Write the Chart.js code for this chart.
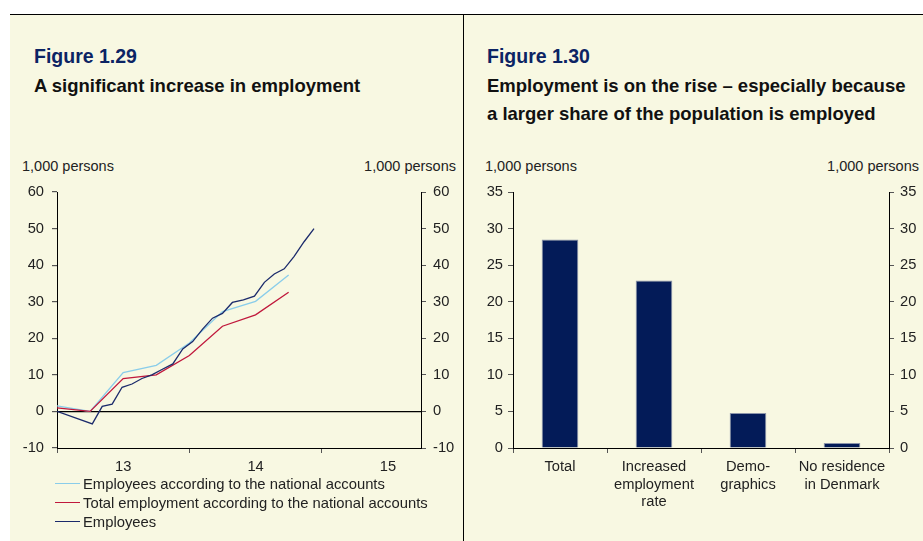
<!DOCTYPE html>
<html>
<head>
<meta charset="utf-8">
<script src="https://cdn.jsdelivr.net/npm/chart.js@4.4.1/dist/chart.umd.min.js"></script>
<style>
  html, body { margin: 0; padding: 0; background: #fff; }
  body { width: 923px; height: 541px; position: relative; overflow: hidden;
         font-family: 'Liberation Sans', Arial, sans-serif; color: #222; }
  #panel { position: absolute; left: 10px; top: 15px; width: 913px; height: 526px; background: #F8F8E2; }
  #rule { position: absolute; left: 10px; top: 14px; width: 913px; height: 1px; background: #000; }
  #divider { position: absolute; left: 463px; top: 14px; width: 1px; height: 527px; background: #000; }
  .fig { position: absolute; top: 46.5px; font-weight: bold; font-size: 19.5px; line-height: 19.5px;
         color: #0c2464; white-space: nowrap; }
  .title { position: absolute; top: 71.6px; font-weight: bold; font-size: 18.5px; line-height: 28px;
           color: #111; white-space: nowrap; }
  .unit { position: absolute; top: 158.7px; font-size: 14.5px; line-height: 14.5px; color: #222; white-space: nowrap; }
  canvas { position: absolute; }
  #legend { position: absolute; left: 55px; top: 475.4px; font-size: 14.8px; color: #222; }
  #legend .row { position: relative; height: 19px; line-height: 19px; padding-left: 28px; white-space: nowrap; }
  #legend .swatch { position: absolute; left: 0; top: 7.5px; width: 25px; height: 1.3px; }
</style>
</head>
<body>
<div id="panel"></div>
<div id="rule"></div>
<div id="divider"></div>

<div class="fig" style="left:34px">Figure 1.29</div>
<div class="title" style="left:34px">A significant increase in employment</div>
<div class="fig" style="left:487px">Figure 1.30</div>
<div class="title" style="left:487px">Employment is on the rise – especially because<br>a larger share of the population is employed</div>

<div class="unit" style="left:22px">1,000 persons</div>
<div class="unit" style="right:467px">1,000 persons</div>
<div class="unit" style="left:485px">1,000 persons</div>
<div class="unit" style="right:4px">1,000 persons</div>

<canvas id="lineChart" width="463" height="300" style="left:0px; top:180px"></canvas>
<canvas id="barChart" width="459" height="361" style="left:464px; top:180px"></canvas>
<div id="legend"></div>

<script>
// Figur 1.29 - position in months from the start of 2013
const seriesNames = [
    'Employees according to the national accounts',
    'Total employment according to the national accounts',
    'Employees'
];
const quarterPos = [0, 3, 6, 9, 12, 15, 18, 21];
const employeesNA = [1.5, 0.0, 10.6, 12.6, 18.7, 27.3, 30.1, 37.3];
const totalEmploymentNA = [1.0, 0.0, 9.0, 10.0, 15.3, 23.3, 26.4, 32.6];
const monthPos = [0, 3.2, 4.1, 5.0, 5.9, 6.8, 7.7, 8.6, 9.6, 10.5, 11.4, 12.3,
    13.2, 14.1, 15.0, 15.9, 16.9, 17.9, 18.8, 19.7, 20.6, 21.5, 22.4, 23.3];
const employees = [0, -3.4, 1.4, 2.0, 6.6, 7.5, 9.0, 10.0, 11.6, 13.0, 17.1, 19.1,
    22.5, 25.5, 26.8, 29.8, 30.5, 31.5, 35.3, 37.6, 39.0, 42.4, 46.4, 50.0];
const yearLabels = ['13', '14', '15'];
const yearCenters = [6, 18, 30];
const yearStarts = [0, 12, 24];
const lineTicks = [-10, 0, 10, 20, 30, 40, 50, 60];

// Figur 1.30
const barCategories = [['Total'], ['Increased', 'employment', 'rate'], ['Demo-', 'graphics'], ['No residence', 'in Denmark']];
const barValues = [28.5, 22.9, 4.8, 0.7];
const barTicks = [0, 5, 10, 15, 20, 25, 30, 35];

Chart.defaults.font.family = "'Liberation Sans', Arial, sans-serif";
Chart.defaults.font.size = 14.7;
Chart.defaults.color = '#222';

const toPoints = (xs, ys) => xs.map((x, i) => ({ x: x, y: ys[i] }));

// fast bredde på y-aksen, og ingen ekstra top-padding fra tick labels
const fixWidth = w => s => { s.width = w; s.paddingTop = 0; s.paddingBottom = 0; };

const lineChart = new Chart(document.getElementById('lineChart'), {
    type: 'line',
    data: {
        datasets: [
            { label: seriesNames[0], data: toPoints(quarterPos, employeesNA), borderColor: '#8ACDEA', order: 2 },
            { label: seriesNames[1], data: toPoints(quarterPos, totalEmploymentNA), borderColor: '#C0183C', order: 1 },
            { label: seriesNames[2], data: toPoints(monthPos, employees), borderColor: '#1B2A6B', order: 0 }
        ]
    },
    options: {
        responsive: false,
        animation: false,
        layout: { padding: { top: 12 }, autoPadding: false },
        elements: { point: { radius: 0, hoverRadius: 0 }, line: { borderWidth: 1.3, tension: 0 } },
        plugins: { legend: { display: false }, tooltip: { enabled: false } },
        scales: {
            x: {
                type: 'linear', min: 0, max: 33,
                afterBuildTicks: s => { s.ticks = [0, 6, 12, 18, 24, 30].map(v => ({ value: v })); },
                afterFit: s => { s.height = 32; },
                ticks: {
                    autoSkip: false, maxRotation: 0, padding: 5,
                    callback: v => { const i = yearCenters.indexOf(v); return i >= 0 ? yearLabels[i] : ''; }
                },
                grid: {
                    drawOnChartArea: false, tickLength: 5,
                    tickColor: c => yearStarts.includes(c.tick.value) ? '#555' : 'rgba(0,0,0,0)'
                },
                border: { color: '#000', width: 1 }
            },
            y: {
                min: -10, max: 60,
                afterBuildTicks: s => { s.ticks = lineTicks.map(v => ({ value: v })); },
                afterFit: fixWidth(57),
                ticks: { padding: 8 },
                grid: {
                    drawOnChartArea: true, tickLength: 5, tickColor: '#555',
                    color: c => c.tick && c.tick.value === 0 ? '#000' : 'rgba(0,0,0,0)',
                    lineWidth: 1.2
                },
                border: { color: '#000', width: 1 }
            },
            y2: {
                position: 'right', min: -10, max: 60,
                afterBuildTicks: s => { s.ticks = lineTicks.map(v => ({ value: v })); },
                afterFit: fixWidth(42),
                ticks: { padding: 7 },
                grid: { drawOnChartArea: false, tickLength: 5, tickColor: '#555' },
                border: { color: '#000', width: 1 }
            }
        }
    }
});

// legend som html
const legend = document.getElementById('legend');
lineChart.data.datasets.forEach(ds => {
    const row = document.createElement('div');
    row.className = 'row';
    const sw = document.createElement('span');
    sw.className = 'swatch';
    sw.style.background = ds.borderColor;
    row.appendChild(sw);
    row.appendChild(document.createTextNode(ds.label));
    legend.appendChild(row);
});

new Chart(document.getElementById('barChart'), {
    type: 'bar',
    data: {
        labels: barCategories,
        datasets: [{
            data: barValues,
            backgroundColor: '#031B58',
            borderColor: '#8C95AA',
            borderWidth: 1,
            categoryPercentage: 1,
            barPercentage: 0.39
        }]
    },
    options: {
        responsive: false,
        animation: false,
        layout: { padding: { top: 12 } },
        plugins: { legend: { display: false }, tooltip: { enabled: false } },
        scales: {
            x: {
                afterFit: s => { s.height = 93; },
                ticks: { padding: 5, maxRotation: 0, autoSkip: false, font: { lineHeight: 1.2 } },
                grid: { drawOnChartArea: false, tickLength: 5, tickColor: '#555', offset: true },
                border: { color: '#000', width: 1 }
            },
            y: {
                min: 0, max: 35,
                afterBuildTicks: s => { s.ticks = barTicks.map(v => ({ value: v })); },
                afterFit: fixWidth(49),
                ticks: { padding: 5 },
                grid: { drawOnChartArea: false, tickLength: 5, tickColor: '#555' },
                border: { color: '#000', width: 1 }
            },
            y2: {
                position: 'right', min: 0, max: 35,
                afterBuildTicks: s => { s.ticks = barTicks.map(v => ({ value: v })); },
                afterFit: fixWidth(34),
                ticks: { padding: 6 },
                grid: { drawOnChartArea: false, tickLength: 5, tickColor: '#555' },
                border: { color: '#000', width: 1 }
            }
        }
    }
});
</script>
</body>
</html>
